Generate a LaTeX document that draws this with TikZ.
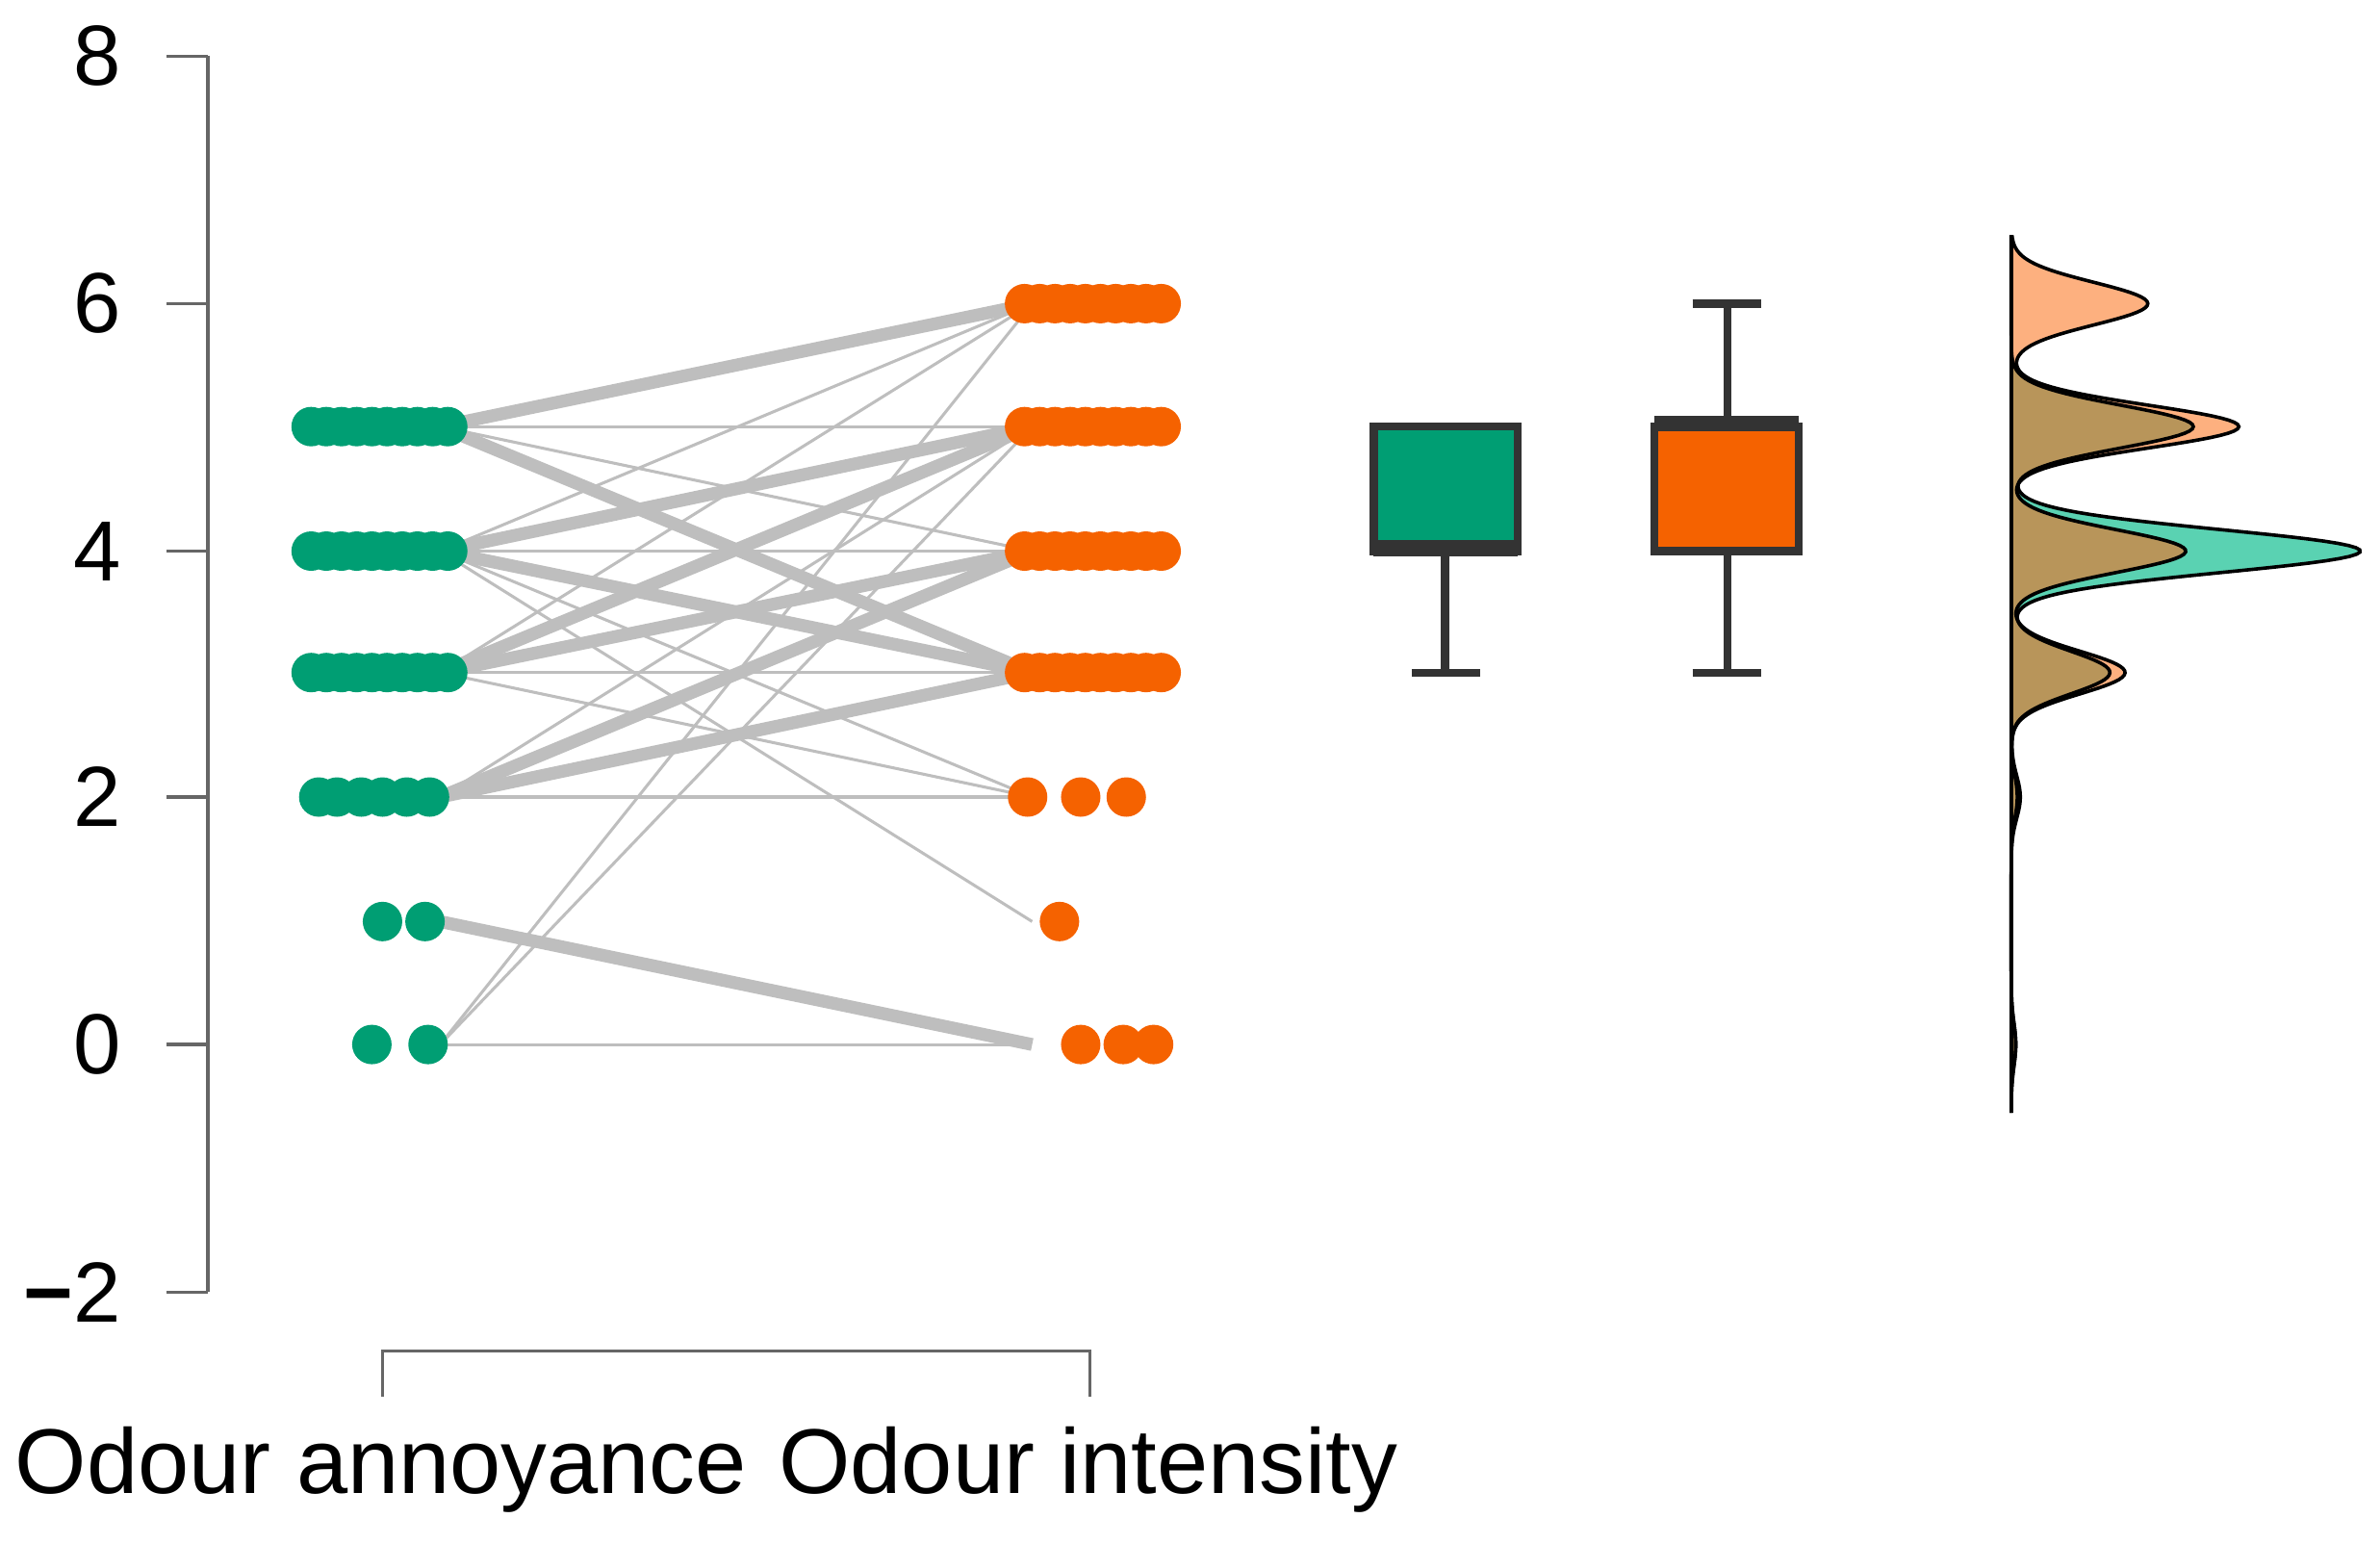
\documentclass[tikz,border=0pt]{standalone}
\usepackage{fontspec}
\setmainfont{Liberation Sans}
\begin{document}
\begin{tikzpicture}[x=0.02cm,y=-0.02cm,
  declare function={G(\t,\c)=exp(max(-40,-0.5*((\t-\c)/14)^2));
    gd(\t)=120*G(\t,281)+230*G(\t,363)+65*G(\t,443)+6*G(\t,525)+3*G(\t,688);
    od(\t)=90*G(\t,200)+150*G(\t,281)+115*G(\t,363)+75*G(\t,443)+4*G(\t,525)+3*G(\t,688);},
  gdot/.style={circle,fill=cg,inner sep=0,minimum size=0.52cm},
  odot/.style={circle,fill=co,inner sep=0,minimum size=0.52cm},
  ln/.style={draw=cl,line width=1.1pt},
  tk/.style={draw=cl,line width=4.8pt},
  ax/.style={draw=black!60,line width=1.2pt},
  bx/.style={draw=black!80,line width=3pt}]
\definecolor{cg}{RGB}{0,158,115}
\definecolor{co}{RGB}{245,98,0}
\definecolor{cl}{RGB}{190,190,190}
\definecolor{cgl}{RGB}{90,210,178}
\definecolor{col}{RGB}{253,176,127}
\definecolor{cbr}{RGB}{184,149,90}
\useasboundingbox (0,0) rectangle (1568,1017);
% axis
\draw[ax] (137,37) -- (137,851);
\foreach \v/\y in {8/37,6/200,4/363,2/525,0/688,{\textbf{\char"2212}2}/851}{
  \draw[ax] (110,\y) -- (137,\y);
  \node[anchor=east,font=\fontsize{32}{32}\selectfont] at (86,\y) {\v};}
% bracket
\draw[ax] (252,920) -- (252,890) -- (718,890) -- (718,920);
\node[font=\fontsize{34.5}{34.5}\selectfont] at (251,968) {Odour annoyance};
\node[font=\fontsize{34.5}{34.5}\selectfont] at (717,968) {Odour intensity};
% endpoint nodes
\foreach \l/\y in {5/281,4/363,3/443,2/525,1/607,0/688}
  \coordinate (g\l) at (290,\y);
\foreach \l/\y in {6/200,5/281,4/363,3/443,2/525,1/607,0/688}
  \coordinate (o\l) at (680,\y);
% lines
\foreach \a/\b in {g5/o5,g5/o4,g4/o6,g4/o4,g4/o1,g4/o2,g3/o6,g3/o3,g3/o2,g2/o2,g2/o5,g0/o0,g0/o5,g0/o6,g3/o5,g4/o5}
  \draw[ln] (\a) -- (\b);
\foreach \a/\b in {g5/o6,g5/o3,g4/o3,g3/o4,g2/o3,g1/o0,g4/o5,g3/o5,g2/o4}
  \draw[tk] (\a) -- (\b);
% green dots
\foreach \y in {281,363,443}{\foreach \x in {205,215,...,295}{\node[gdot] at (\x,\y) {};}}
\foreach \x in {210,222,238,252,268,283}{\node[gdot] at (\x,525) {};}
\node[gdot] (gg1a) at (252,607) {}; \node[gdot] (gg1b) at (280,607) {};
\node[gdot] (gg0a) at (245,688) {}; \node[gdot] (gg0b) at (282,688) {};
% orange dots
\foreach \y in {200,281,363,443}{\foreach \x in {675,685,...,765}{\node[odot] at (\x,\y) {};}}
\foreach \x in {677,712,742}{\node[odot] at (\x,525) {};}
\node[odot] (oo1) at (698,607) {};
\foreach \x in {712,740,760}{\node[odot] at (\x,688) {};}
% boxplots
\draw[bx] (952,363) -- (952,443); \draw[bx] (930,443) -- (975,443);
\filldraw[bx,fill=cg] (905,281) rectangle (1000,363);
\draw[draw=black!80,line width=6pt] (905,361) -- (1000,361);
\draw[bx] (1138,200) -- (1138,281); \draw[bx] (1115,200) -- (1160,200);
\draw[bx] (1138,363) -- (1138,443); \draw[bx] (1115,443) -- (1160,443);
\filldraw[bx,fill=co] (1090,281) rectangle (1185,363);
\draw[draw=black!80,line width=6pt] (1090,279) -- (1185,279);
% densities
\fill[cgl] (1325,155) -- plot[domain=155:733,samples=400,variable=\t] ({1325+gd(\t)},\t) -- (1325,733) -- cycle;
\fill[col] (1325,155) -- plot[domain=155:733,samples=400,variable=\t] ({1325+od(\t)},\t) -- (1325,733) -- cycle;
\fill[cbr] (1325,155) -- plot[domain=155:733,samples=400,variable=\t] ({1325+min(gd(\t),od(\t))},\t) -- (1325,733) -- cycle;
\draw[line width=1.3pt] plot[domain=155:733,samples=400,variable=\t] ({1325+gd(\t)},\t);
\draw[line width=1.3pt] plot[domain=155:733,samples=400,variable=\t] ({1325+od(\t)},\t);
\draw[line width=1.3pt] (1325,155) -- (1325,733);
\end{tikzpicture}
\end{document}
